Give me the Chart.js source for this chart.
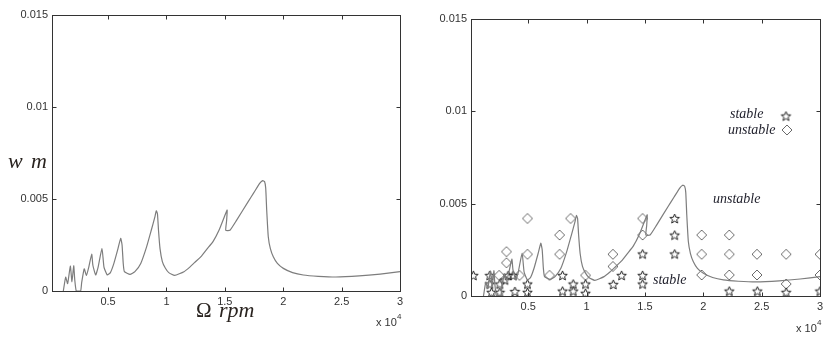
<!DOCTYPE html>
<html>
<head>
<meta charset="utf-8">
<script src="https://cdn.jsdelivr.net/npm/chart.js@4/dist/chart.umd.min.js"></script>
<style>
html, body { margin: 0; padding: 0; background: #fff; }
#wrap { position: relative; width: 832px; height: 339px; }
canvas { position: absolute; top: 0; }
#left { left: 0; }
#right { left: 420px; }
</style>
</head>
<body>
<div id="wrap">
  <canvas id="left" width="420" height="339"></canvas>
  <canvas id="right" width="412" height="339"></canvas>
</div>
<script>
// response curve (rpm, m)
const curveX = [1170, 1370, 1540, 1770, 1910, 2060, 2150, 2280, 2650, 2740, 2960, 3150, 3350, 3600, 3700, 3940,
  4150, 4480, 4650, 4930, 5200, 5500, 5850, 6080, 6200, 6300, 6400, 6880, 7300, 7800, 8300, 8700, 9000, 9130,
  9230, 9320, 9450, 9650, 9900, 10200, 10700, 11500, 12000, 12500, 13000, 13500, 14000, 14500, 15000, 15200,
  15150, 15080, 15440, 16000, 17000, 17500, 18000, 18240, 18400, 18500, 18585, 18720, 18900, 19150, 19500,
  20010, 20800, 21720, 23000, 24500, 26500, 28300, 30000];
const curveY = [0, 0.00075, 0.0004, 0.00135, 0.0005, 0.00137, 0.0006, 0, 0, 0.00045, 0.0012, 0.00085, 0.0013, 0.002, 0.0014, 0.00087,
  0.0013, 0.00232, 0.0013, 0.00087, 0.001, 0.0015, 0.0023, 0.00286, 0.0025, 0.0015, 0.00105, 0.0009, 0.00105, 0.0015, 0.0024, 0.0033, 0.004, 0.00436,
  0.0042, 0.0033, 0.0023, 0.0016, 0.00125, 0.001, 0.00085, 0.00105, 0.0013, 0.0016, 0.0019, 0.0023, 0.0027, 0.0033, 0.0041, 0.0044,
  0.0038, 0.0033, 0.0033, 0.00384, 0.00486, 0.00536, 0.00586, 0.006, 0.00595, 0.0056, 0.0044, 0.00295, 0.0023, 0.00186, 0.0015,
  0.00123, 0.001, 0.00087, 0.0008, 0.00076, 0.00082, 0.00092, 0.00105];

// stable points (stars)
const stableX = [300, 1710, 1710, 1860, 2570, 2570, 3000, 3290, 3710, 3860, 4940, 4940, 7940, 7940, 8860, 8860,
  9910, 9910, 12290, 13000, 14800, 14800, 14800, 17550, 17550, 17550, 22230, 24630, 27100, 30000];
const stableY = [0.00112, 0.00112, 0.00065, 0.0002, 0.00065, 0.0002, 0.00087, 0.00112, 0.00112, 0.00025, 0.00065, 0.0002, 0.00112, 0.00027, 0.00065, 0.00027,
  0.00065, 0.00015, 0.00063, 0.00112, 0.00228, 0.00112, 0.00065, 0.0042, 0.0033, 0.00228, 0.00027, 0.00027, 0.0002, 0.00027];

// unstable points (diamonds)
const unstableX = [2510, 3140, 3140, 4250, 4940, 4940, 6830, 7690, 7690, 8630, 9910, 12260, 12260, 14800, 14800,
  19860, 19860, 19860, 22230, 22230, 22230, 24600, 24600, 27100, 27100, 30000, 30000];
const unstableY = [0.00112, 0.0024, 0.0018, 0.00112, 0.0042, 0.00226, 0.00112, 0.0033, 0.00226, 0.0042, 0.00112, 0.00226, 0.0016, 0.0042, 0.0033,
  0.0033, 0.00226, 0.00114, 0.0033, 0.00226, 0.00114, 0.00226, 0.00114, 0.00226, 0.00065, 0.00226, 0.00114];

const xTicks = [5000, 10000, 15000, 20000, 25000, 30000];
const yTicks = [0, 0.005, 0.01, 0.015];

const toPoints = (xs, ys) => xs.map((v, i) => ({ x: v, y: ys[i] }));

// marker images
function starImage() {
  const c = document.createElement("canvas");
  c.width = 13; c.height = 13;
  const g = c.getContext("2d");
  g.strokeStyle = "#222";
  g.lineWidth = 1;
  g.beginPath();
  for (let i = 0; i < 10; i++) {
    const r = i % 2 === 0 ? 5.0 : 2.2;
    const a = -Math.PI / 2 + i * Math.PI / 5;
    const px = 6.5 + r * Math.cos(a), py = 7 + r * Math.sin(a);
    i === 0 ? g.moveTo(px, py) : g.lineTo(px, py);
  }
  g.closePath();
  g.stroke();
  return c;
}
function diamondImage() {
  const c = document.createElement("canvas");
  c.width = 12; c.height = 12;
  const g = c.getContext("2d");
  g.strokeStyle = "#6a6a6a";
  g.lineWidth = 1;
  g.beginPath();
  g.moveTo(6, 1); g.lineTo(11, 6); g.lineTo(6, 11); g.lineTo(1, 6); g.closePath();
  g.stroke();
  return c;
}
const star = starImage();
const diamond = diamondImage();

// box, inward ticks and free texts
const framePlugin = {
  id: "frame",
  afterDraw(chart, args, opts) {
    const { ctx, chartArea: a, scales: { x, y } } = chart;
    const L = Math.round(a.left) + 0.5, R = Math.round(a.right) + 0.5;
    const T = Math.round(a.top) + 0.5, B = Math.round(a.bottom) + 0.5;
    ctx.save();
    ctx.strokeStyle = "#333";
    ctx.lineWidth = 1;
    ctx.strokeRect(L, T, R - L, B - T);
    ctx.beginPath();
    x.ticks.forEach(t => {
      const p = Math.round(x.getPixelForValue(t.value)) + 0.5;
      ctx.moveTo(p, B); ctx.lineTo(p, B - 4);
      ctx.moveTo(p, T); ctx.lineTo(p, T + 4);
    });
    y.ticks.forEach(t => {
      const p = Math.round(y.getPixelForValue(t.value)) + 0.5;
      ctx.moveTo(L, p); ctx.lineTo(L + 4, p);
      ctx.moveTo(R, p); ctx.lineTo(R - 4, p);
    });
    ctx.stroke();
    ctx.textBaseline = "alphabetic";
    ctx.textAlign = "left";
    (opts.texts || []).forEach(t => {
      ctx.font = t.font;
      ctx.fillStyle = t.color || "#222";
      ctx.fillText(t.text, t.x, t.y);
    });
    (opts.marks || []).forEach(m => {
      ctx.drawImage(m.img, m.x - m.img.width / 2, m.y - m.img.height / 2);
    });
    ctx.restore();
  }
};

function makeOptions(xMin, yWidth, xHeight, padTop, padRight, frame) {
  return {
    responsive: false,
    animation: false,
    layout: { padding: { top: padTop, right: padRight, left: 0, bottom: 0 } },
    plugins: { legend: { display: false }, tooltip: { enabled: false }, frame: frame },
    scales: {
      x: {
        type: "linear", min: xMin, max: 30000,
        grid: { display: false, drawTicks: false }, border: { display: false },
        afterBuildTicks: s => { s.ticks = xTicks.map(v => ({ value: v })); },
        afterFit: s => { s.height = xHeight; },
        ticks: {
          padding: 4, color: "#333",
          font: { family: "Liberation Sans", size: 11 },
          callback: v => String(v / 10000)
        }
      },
      y: {
        type: "linear", min: 0, max: 0.015,
        grid: { display: false, drawTicks: false }, border: { display: false },
        afterBuildTicks: s => { s.ticks = yTicks.map(v => ({ value: v })); },
        afterFit: s => { s.width = yWidth; },
        ticks: {
          padding: 4, color: "#333",
          font: { family: "Liberation Sans", size: 11 },
          callback: v => String(v)
        }
      }
    }
  };
}

const lineSet = {
  label: "w",
  data: toPoints(curveX, curveY),
  showLine: true,
  borderColor: "#7d7d7d",
  borderWidth: 1.2,
  pointRadius: 0,
  tension: 0.15
};

const serif = "Liberation Serif";
new Chart(document.getElementById("left").getContext("2d"), {
  type: "scatter",
  data: { datasets: [lineSet] },
  options: makeOptions(200, 52, 48, 15, 20, {
    texts: [
      { text: "w", x: 8, y: 168, font: "italic 22px " + serif, color: "#2a2420" },
      { text: "m", x: 31, y: 168, font: "italic 22px " + serif, color: "#2a2420" },
      { text: "\u03A9", x: 196, y: 317, font: "21px " + serif, color: "#2a2420" },
      { text: "rpm", x: 219, y: 317, font: "italic 22px " + serif, color: "#2a2420" },
      { text: "x 10", x: 376, y: 326, font: "11px Liberation Sans", color: "#333" },
      { text: "4", x: 397, y: 319, font: "8px Liberation Sans", color: "#333" }
    ]
  }),
  plugins: [framePlugin]
});

new Chart(document.getElementById("right").getContext("2d"), {
  type: "scatter",
  data: {
    datasets: [
      Object.assign({}, lineSet, { data: toPoints(curveX, curveY) }),
      { label: "stable", data: toPoints(stableX, stableY), pointStyle: star, pointRadius: 5, showLine: false },
      { label: "unstable", data: toPoints(unstableX, unstableY), pointStyle: diamond, pointRadius: 6, showLine: false }
    ]
  },
  options: makeOptions(100, 51, 43, 19, 12, {
    texts: [
      { text: "stable", x: 310, y: 118, font: "italic 14px " + serif, color: "#1e1e2a" },
      { text: "unstable", x: 308, y: 134, font: "italic 14px " + serif, color: "#1e1e2a" },
      { text: "unstable", x: 293, y: 203, font: "italic 14px " + serif, color: "#1e1e2a" },
      { text: "stable", x: 233, y: 284, font: "italic 14px " + serif, color: "#1e1e2a" },
      { text: "x 10", x: 376, y: 332, font: "11px Liberation Sans", color: "#333" },
      { text: "4", x: 397, y: 325, font: "8px Liberation Sans", color: "#333" }
    ],
    marks: [
      { img: star, x: 366, y: 116 },
      { img: diamond, x: 367, y: 130 }
    ]
  }),
  plugins: [framePlugin]
});
</script>
</body>
</html>
